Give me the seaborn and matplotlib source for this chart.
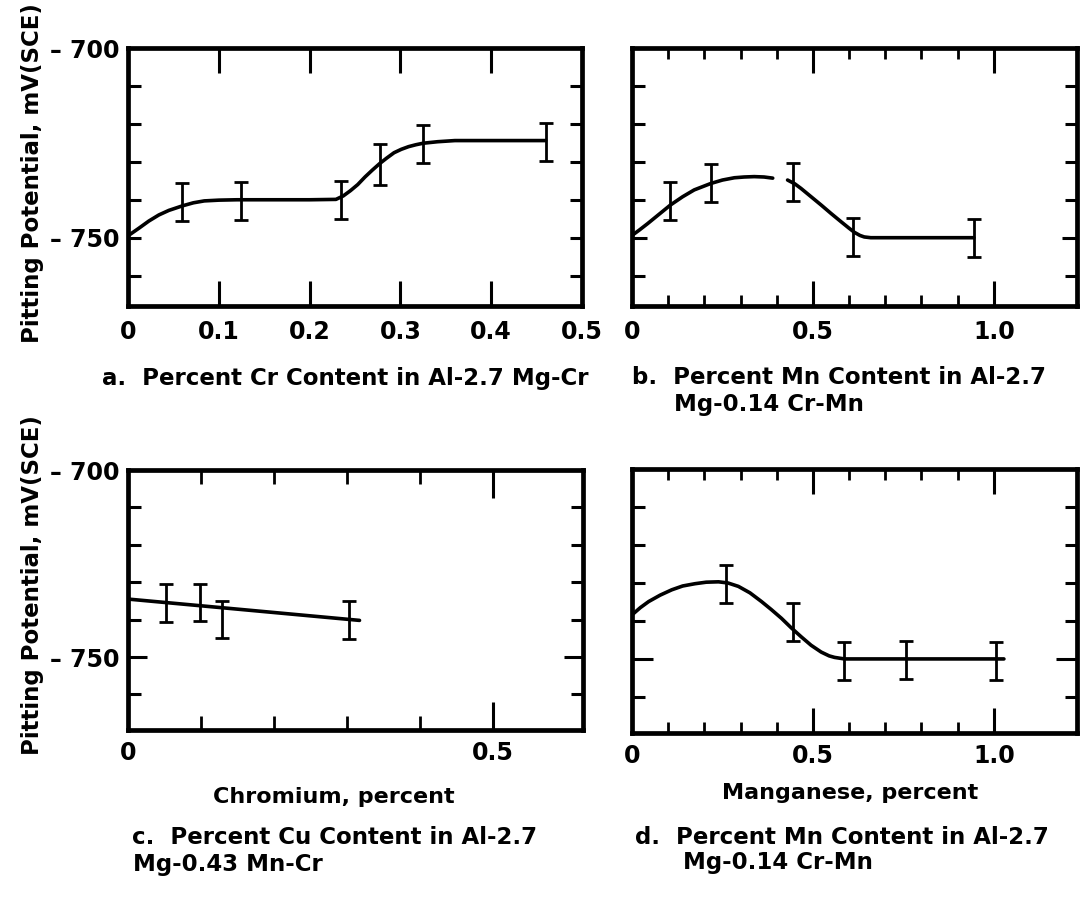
import numpy as np
import pandas as pd
import matplotlib
matplotlib.use("Agg")
import matplotlib.pyplot as plt
import seaborn as sns
from matplotlib.ticker import FixedLocator

# ---------------- data ----------------
# panel a: Cr content in Al-2.7Mg-Cr
a_pts_x = [0.06, 0.125, 0.235, 0.277, 0.325, 0.46]
a_pts_y = [-740.5, -740.3, -740.0, -730.7, -725.2, -724.7]
a_err = [5.0, 5.0, 5.0, 5.5, 5.0, 5.0]
a_curve_x = [0, 0.012, 0.023, 0.034, 0.045, 0.06, 0.072, 0.084, 0.10, 0.12, 0.2, 0.229, 0.237,
             0.245, 0.253, 0.261, 0.269, 0.277, 0.285, 0.293, 0.301, 0.309, 0.317, 0.325, 0.341, 0.36, 0.46]
a_curve_y = [-749.5, -747.5, -745.6, -744.0, -742.8, -741.6, -740.8, -740.3, -740.1, -740.0, -740.0, -739.9, -739.0,
             -737.6, -736.0, -734.0, -732.2, -730.5, -729.0, -727.6, -726.7, -726.0, -725.5, -725.1, -724.7, -724.4, -724.4]

# panel b: Mn content in Al-2.7Mg-0.14Cr-Mn
b_pts_x = [0.106, 0.218, 0.444, 0.610, 0.945]
b_pts_y = [-740.4, -735.5, -735.2, -749.9, -750.2]
b_err = [5.0, 5.0, 5.0, 5.0, 5.0]
b_curve1_x = [0, 0.02, 0.043, 0.07, 0.106, 0.14, 0.172, 0.218, 0.25, 0.283, 0.31, 0.338, 0.365, 0.389]
b_curve1_y = [-749.4, -748.0, -746.3, -744.2, -741.4, -739.2, -737.4, -735.7, -734.8, -734.2, -734.0, -733.9, -734.0, -734.3]
b_curve2_x = [0.430, 0.45, 0.467, 0.495, 0.523, 0.55, 0.578, 0.60, 0.615, 0.63, 0.642, 0.66, 0.70, 0.945]
b_curve2_y = [-734.8, -735.8, -737.0, -739.2, -741.4, -743.6, -745.8, -747.5, -748.6, -749.4, -749.8, -750.0, -750.0, -750.0]

# panel c: Cr content in Al-2.7Mg-0.43Mn-Cr
c_pts_x = [0.052, 0.098, 0.129, 0.303]
c_pts_y = [-735.5, -735.4, -740.0, -740.1]
c_err = [5.0, 5.0, 5.0, 5.0]
c_line_x = [0, 0.317]
c_line_y = [-734.5, -740.2]

# panel d: Mn content in Al-2.7Mg-0.14Cr-Mn
d_pts_x = [0.261, 0.445, 0.585, 0.757, 1.005]
d_pts_y = [-730.2, -740.2, -750.5, -750.4, -750.5]
d_err = [5.0, 5.0, 5.0, 5.0, 5.0]
d_curve_x = [0, 0.023, 0.046, 0.078, 0.110, 0.14, 0.174, 0.205, 0.239, 0.265, 0.294, 0.326, 0.358,
             0.385, 0.413, 0.44, 0.468, 0.495, 0.523, 0.545, 0.560, 0.587, 0.7, 1.028]
d_curve_y = [-738.4, -736.5, -734.9, -733.2, -731.8, -730.8, -730.2, -729.8, -729.7, -730.0, -730.9, -732.6, -734.9,
             -737.0, -739.3, -741.8, -744.2, -746.4, -748.2, -749.2, -749.6, -750.0, -750.0, -750.0]

y_major = [-700, -750]
y_minor = [-760, -740, -730, -720, -710]
y_major_labels = ["\u2013 700", "\u2013 750"]
a_xticks = [0, 0.1, 0.2, 0.3, 0.4, 0.5]
a_xlabels = ["0", "0.1", "0.2", "0.3", "0.4", "0.5"]
bd_xticks = [0, 0.5, 1.0]
bd_xlabels = ["0", "0.5", "1.0"]
bd_xminor = [0.1, 0.2, 0.3, 0.4, 0.6, 0.7, 0.8, 0.9]
c_xticks = [0, 0.5]
c_xlabels = ["0", "0.5"]
c_xminor = [0.1, 0.2, 0.3, 0.4]

ylabel_text = "Pitting Potential, mV(SCE)"
cap_a = "a.  Percent Cr Content in Al-2.7 Mg-Cr"
cap_b = ["b.  Percent Mn Content in Al-2.7", "Mg-0.14 Cr-Mn"]
cap_c = ["c.  Percent Cu Content in Al-2.7", "Mg-0.43 Mn-Cr"]
cap_d = ["d.  Percent Mn Content in Al-2.7", "Mg-0.14 Cr-Mn"]
xlabel_c = "Chromium, percent"
xlabel_d = "Manganese, percent"

# ---------------- style ----------------
sns.set_theme(style="white")
plt.rcParams['font.family'] = ['DejaVu Sans']
plt.rcParams['font.weight'] = 'bold'
plt.rcParams['axes.labelweight'] = 'bold'
plt.rcParams['text.color'] = 'black'
plt.rcParams['axes.labelcolor'] = 'black'
plt.rcParams['xtick.color'] = 'black'
plt.rcParams['ytick.color'] = 'black'
plt.rcParams['xtick.labelcolor'] = 'black'
plt.rcParams['ytick.labelcolor'] = 'black'

W, H = 1085, 900
fig = plt.figure(figsize=(W / 100, H / 100), dpi=100)
fig.patch.set_facecolor("white")


def rect(l, t, r, b):
    return [l / W, 1 - b / H, (r - l) / W, (b - t) / H]


ax_a = fig.add_axes(rect(128, 48, 582, 306))
ax_b = fig.add_axes(rect(632, 48, 1077, 306))
ax_c = fig.add_axes(rect(128, 470, 583, 730))
ax_d = fig.add_axes(rect(632, 469, 1077, 733))

LW_CURVE = 2.6
FS_TICK = 17
FS_CAP = 16.5
FS_XLAB = 16


def style_axis(ax, xlim, ylim, xticks, xlabels, xminor, show_ylabels,
               xmajor_len=18, xminor_len=8, ymajor_len=9, xpad=10):
    ax.set_facecolor("white")
    ax.set_xlim(*xlim)
    ax.set_ylim(*ylim)
    for s in ax.spines.values():
        s.set_visible(True)
        s.set_linewidth(3.4)
        s.set_color("black")
    ax.xaxis.set_major_locator(FixedLocator(xticks))
    ax.set_xticklabels(xlabels)
    if xminor is not None:
        ax.xaxis.set_minor_locator(FixedLocator(xminor))
    ax.yaxis.set_major_locator(FixedLocator(y_major))
    ax.yaxis.set_minor_locator(FixedLocator(y_minor))
    if show_ylabels:
        ax.set_yticklabels(y_major_labels)
    else:
        ax.set_yticklabels([])
    ax.tick_params(axis='x', which='major', direction='in', top=True, bottom=True,
                   length=xmajor_len, width=2.2, color='black', labelcolor='black',
                   labelsize=FS_TICK, pad=xpad)
    ax.tick_params(axis='x', which='minor', direction='in', top=True, bottom=True,
                   length=xminor_len, width=2.0, color='black')
    ax.tick_params(axis='y', which='major', direction='in', left=True, right=True,
                   length=ymajor_len, width=2.2, color='black', labelcolor='black',
                   labelsize=FS_TICK, pad=6)
    ax.tick_params(axis='y', which='minor', direction='in', left=True, right=True,
                   length=9, width=2.2, color='black')
    for lab in ax.get_xticklabels() + ax.get_yticklabels():
        lab.set_fontweight('bold')


def draw_points(ax, xs, ys, errs):
    ax.errorbar(xs, ys, yerr=errs, fmt='none', ecolor='black', elinewidth=2.0,
                capsize=5, capthick=2.0, zorder=3)


# panel a
sns.lineplot(x=a_curve_x, y=a_curve_y, ax=ax_a, color='black', linewidth=LW_CURVE, sort=False)
draw_points(ax_a, a_pts_x, a_pts_y, a_err)
style_axis(ax_a, (0, 0.5), (-768, -700), a_xticks, a_xlabels, None, True)

# panel b
sns.lineplot(x=b_curve1_x, y=b_curve1_y, ax=ax_b, color='black', linewidth=LW_CURVE, sort=False)
sns.lineplot(x=b_curve2_x, y=b_curve2_y, ax=ax_b, color='black', linewidth=LW_CURVE, sort=False)
draw_points(ax_b, b_pts_x, b_pts_y, b_err)
style_axis(ax_b, (0, 1.23), (-768, -700), bd_xticks, bd_xlabels, bd_xminor, False, ymajor_len=11)

# panel c
sns.lineplot(x=c_line_x, y=c_line_y, ax=ax_c, color='black', linewidth=LW_CURVE, sort=False)
draw_points(ax_c, c_pts_x, c_pts_y, c_err)
style_axis(ax_c, (0, 0.623), (-769.5, -700), c_xticks, c_xlabels, c_xminor, True,
           xmajor_len=20, xminor_len=10, ymajor_len=14, xpad=8)

# panel d
sns.lineplot(x=d_curve_x, y=d_curve_y, ax=ax_d, color='black', linewidth=LW_CURVE, sort=False)
draw_points(ax_d, d_pts_x, d_pts_y, d_err)
style_axis(ax_d, (0, 1.23), (-769.5, -700), bd_xticks, bd_xlabels, bd_xminor, False,
           ymajor_len=15, xpad=8)

# y labels (right edge of rotated text at x ~ 44 px)
for ax, cy, top, bot in [(ax_a, 173, 48, 306), (ax_c, 585, 470, 730)]:
    ax.set_ylabel(ylabel_text, fontsize=FS_CAP, fontweight='bold', color='black')
    ax.yaxis.set_label_coords((44 - 128) / 454, (bot - cy) / (bot - top))

# x labels (c, d): left-anchored positions
ax_c.set_xlabel(xlabel_c, fontsize=FS_XLAB, fontweight='bold', color='black', ha='left')
ax_c.xaxis.set_label_coords((213 - 128) / 455, (730 - 787) / 260)
ax_d.set_xlabel(xlabel_d, fontsize=FS_XLAB, fontweight='bold', color='black', ha='left')
ax_d.xaxis.set_label_coords((722 - 632) / 445, (733 - 783) / 264)


def ftext(x, y, s):
    fig.text(x / W, 1 - y / H, s, ha='left', va='center', fontsize=FS_CAP,
             fontweight='bold', color='black')


ftext(102, 379, cap_a)
ftext(632, 378, cap_b[0])
ftext(674, 404, cap_b[1])
ftext(132, 838, cap_c[0])
ftext(133, 864, cap_c[1])
ftext(635, 837, cap_d[0])
ftext(683, 863, cap_d[1])

fig.savefig("out.png", dpi=100, facecolor="white")
